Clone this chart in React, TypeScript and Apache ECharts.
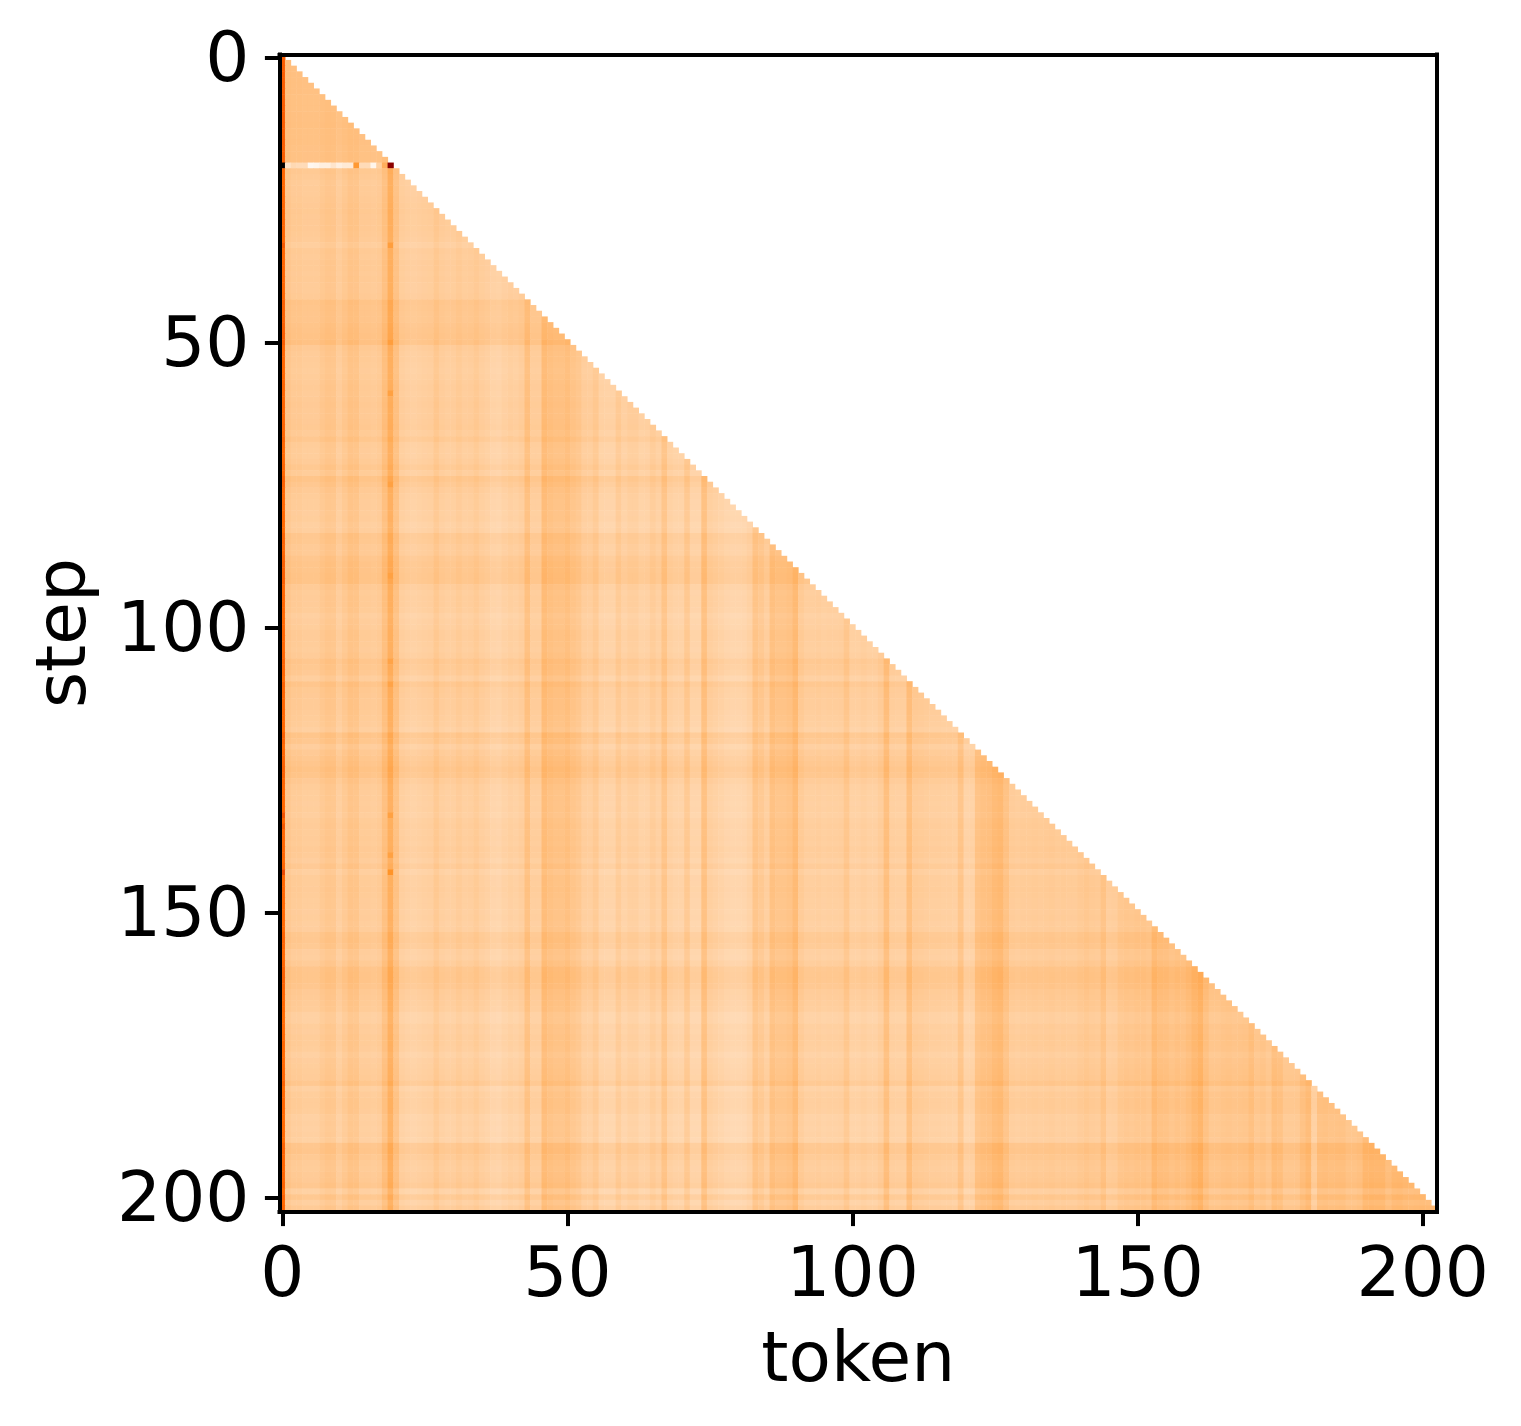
import React, { useEffect, useRef } from "react";
import * as echarts from "echarts";

// Estimated column level per token, in thousandths of the colour scale (10 per line)
const tokenLevels = [
  300, 110, 100, 100, 95, 95, 95, 105, 112, 110,
  92, 105, 118, 115, 98, 98, 95, 100, 128, 155,
  122, 90, 85, 82, 85, 88, 90, 105, 92, 88,
  90, 98, 90, 92, 100, 90, 85, 76, 74, 82,
  88, 85, 92, 125, 92, 92, 136, 125, 120, 120,
  128, 115, 108, 92, 90, 102, 80, 78, 78, 98,
  82, 90, 90, 80, 82, 95, 85, 115, 85, 80,
  80, 105, 76, 76, 125, 90, 85, 80, 74, 72,
  72, 74, 82, 115, 105, 90, 125, 115, 115, 120,
  140, 100, 90, 90, 92, 88, 90, 90, 92, 110,
  85, 85, 90, 85, 85, 95, 130, 90, 88, 88,
  130, 100, 98, 95, 92, 92, 90, 90, 88, 115,
  80, 82, 120, 125, 128, 140, 145, 122, 98, 95,
  98, 98, 100, 98, 100, 102, 98, 100, 98, 98,
  104, 110, 104, 102, 120, 94, 96, 110, 114, 112,
  116, 116, 112, 142, 130, 128, 120, 126, 123, 133,
  148, 160, 130, 113, 113, 118, 120, 116, 118, 120,
  133, 113, 118, 108, 133, 128, 108, 108, 110, 128,
  142, 92, 128, 130, 126, 128, 128, 118, 118, 123,
  146, 148, 146, 146, 128, 142, 144, 138, 136, 138,
  140, 138, 142,
];

// Estimated row offset per step, in thousandths (10 per line)
const stepOffsets = [
  25, 25, 25, 25, 25, 25, 25, 24, 24, 24,
  25, 25, 26, 24, 24, 24, 22, 22, 22, 0,
  8, 4, 0, 2, 2, 4, 6, 8, 6, 6,
  6, 4, 2, -6, 4, 2, 4, 4, 2, 4,
  2, 2, 4, 20, 18, 16, 16, 20, 22, 24,
  28, 8, 4, 4, 2, 0, 2, 4, 6, 4,
  6, 8, 6, 6, 8, 10, 4, 14, 2, 0,
  0, 4, 12, 2, 22, 14, 6, 2, 0, 0,
  -2, 0, -6, -4, 14, 12, 6, 6, 16, 20,
  20, 22, 22, 6, 2, 4, 4, 2, -6, -2,
  0, 4, 4, 2, 0, 4, 16, 12, 8, -4,
  18, 10, 8, 6, 6, 4, 2, 0, -6, 20,
  14, -2, 8, 14, 18, 24, 20, 8, 2, 0,
  0, -2, 0, -4, 2, 4, 2, 4, 2, 6,
  4, -2, 8, -6, 2, 2, 4, 2, 0, 0,
  -2, 0, -4, -2, 12, 14, 10, -2, -4, 4,
  18, 20, 20, 16, 8, 6, 4, 2, -8, -8,
  0, -2, 2, 2, 0, -8, -2, 0, 2, 4,
  14, -8, 0, 2, 2, 0, -8, -6, -8, -6,
  -10, 16, 18, 10, 4, 2, 6, 8, 14, -10,
  12, -6, 6,
];

// Row 19, read cell by cell (tokens 0..19), in thousandths
const row19Levels = [1000, 50, 75, 70, 70, 15, 20, 30, 30, 50, 30, 40, 40, 200, 70, 70, 20, 90, 160, 620];
// Rows where the column of token 19 peaks: [step, level]
const token19Peaks = [[33, 190], [50, 190], [59, 185], [75, 185], [91, 185], [106, 180], [110, 180], [133, 185], [140, 185], [143, 210]];
// Rows where the column of token 0 peaks: [step, level]
const token0Peaks = [[33, 330], [133, 340], [135, 330], [143, 360]];

const tokenCategories = tokenLevels.map((_, i) => String(i));
const stepCategories = stepOffsets.map((_, i) => String(i));
const xTickLabels = ["0", "50", "100", "150", "200"];
const yTickLabels = ["0", "50", "100", "150", "200"];

const FONT = "DejaVu Sans";
const FONT_SIZE = 69.4;
const LINE = 4;

function heatColor(v: number): string {
  const x = 1 - v;
  const r = Math.min(1, x / 0.7);
  const g = Math.max(0, 2 * x - 1);
  const b = Math.max(0, 4 * x - 3);
  return `rgb(${Math.round(r * 255)},${Math.round(g * 255)},${Math.round(b * 255)})`;
}
const colourStops = Array.from({ length: 21 }, (_, i) => heatColor(i / 20));

function contrast(step: number): number {
  if (step < 19) return 0.35;
  if (step < 50) return 0.65;
  return 0.8;
}

function buildCells(): number[][] {
  const cells: number[][] = [];
  stepOffsets.forEach((offset, y) => {
    for (let x = 0; x <= y; x++) {
      let v: number;
      if (y === 19 && x < row19Levels.length) {
        v = row19Levels[x];
      } else if (x === 0 || x === 19) {
        v = tokenLevels[x] + 0.8 * offset;
      } else {
        v = 105 + contrast(y) * (tokenLevels[x] - 105) + 0.8 * offset;
      }
      cells.push([x, y, v / 1000]);
    }
  });
  const setCell = (x: number, y: number, level: number) => {
    const idx = (y * (y + 1)) / 2 + x;
    cells[idx][2] = level / 1000;
  };
  token19Peaks.forEach(([y, l]) => setCell(19, y, l));
  token0Peaks.forEach(([y, l]) => setCell(0, y, l));
  return cells;
}

export default function App() {
  const ref = useRef<HTMLDivElement>(null);
  useEffect(() => {
    const chart = echarts.init(ref.current!, null, { renderer: "svg" });
    const lineStyle = { color: "#000", width: LINE, cap: "square" as const };
    const tickStyle = { color: "#000", width: LINE };
    const textStyle = { color: "#000", fontFamily: FONT, fontSize: FONT_SIZE };
    const every50 = (index: number) => index % 50 === 0;
    chart.setOption({
      animation: false,
      backgroundColor: "#fff",
      grid: { left: 279.5, top: 54.5, width: 1157.5, height: 1157, containLabel: false, outerBoundsMode: "none" },
      visualMap: {
        show: false,
        type: "continuous",
        min: 0,
        max: 1,
        dimension: 2,
        seriesIndex: 0,
        inRange: { color: colourStops },
      },
      xAxis: [
        {
          type: "category",
          data: tokenCategories,
          position: "bottom",
          z: 10,
          name: "token",
          nameLocation: "middle",
          nameGap: 111,
          nameTextStyle: textStyle,
          axisLine: { show: true, onZero: false, lineStyle },
          axisTick: { show: true, alignWithLabel: true, length: 14.6, interval: every50, lineStyle: tickStyle },
          axisLabel: {
            ...textStyle,
            margin: 26,
            interval: every50,
            hideOverlap: false,
            formatter: (v: string) => (xTickLabels.includes(v) ? v : ""),
          },
          splitLine: { show: false },
        },
        {
          type: "category",
          data: tokenCategories,
          position: "top",
          z: 10,
          axisLine: { show: true, onZero: false, lineStyle },
          axisTick: { show: false },
          axisLabel: { show: false },
          splitLine: { show: false },
        },
      ],
      yAxis: [
        {
          type: "category",
          data: stepCategories,
          inverse: true,
          position: "left",
          z: 10,
          name: "step",
          nameLocation: "middle",
          nameGap: 184,
          nameTextStyle: textStyle,
          axisLine: { show: true, onZero: false, lineStyle },
          axisTick: { show: true, alignWithLabel: true, length: 14.6, interval: every50, lineStyle: tickStyle },
          axisLabel: {
            ...textStyle,
            margin: 30,
            padding: [5, 0, 0, 0],
            interval: every50,
            hideOverlap: false,
            formatter: (v: string) => (yTickLabels.includes(v) ? v : ""),
          },
          splitLine: { show: false },
        },
        {
          type: "category",
          data: stepCategories,
          inverse: true,
          position: "right",
          z: 10,
          axisLine: { show: true, onZero: false, lineStyle },
          axisTick: { show: false },
          axisLabel: { show: false },
          splitLine: { show: false },
        },
      ],
      series: [
        {
          type: "heatmap",
          xAxisIndex: 0,
          yAxisIndex: 0,
          data: buildCells(),
          progressive: 0,
          silent: true,
          emphasis: { disabled: true },
        },
      ],
    });
    return () => chart.dispose();
  }, []);
  return <div ref={ref} style={{ position: "absolute", left: 0, top: 0, width: 1521, height: 1426 }} />;
}
